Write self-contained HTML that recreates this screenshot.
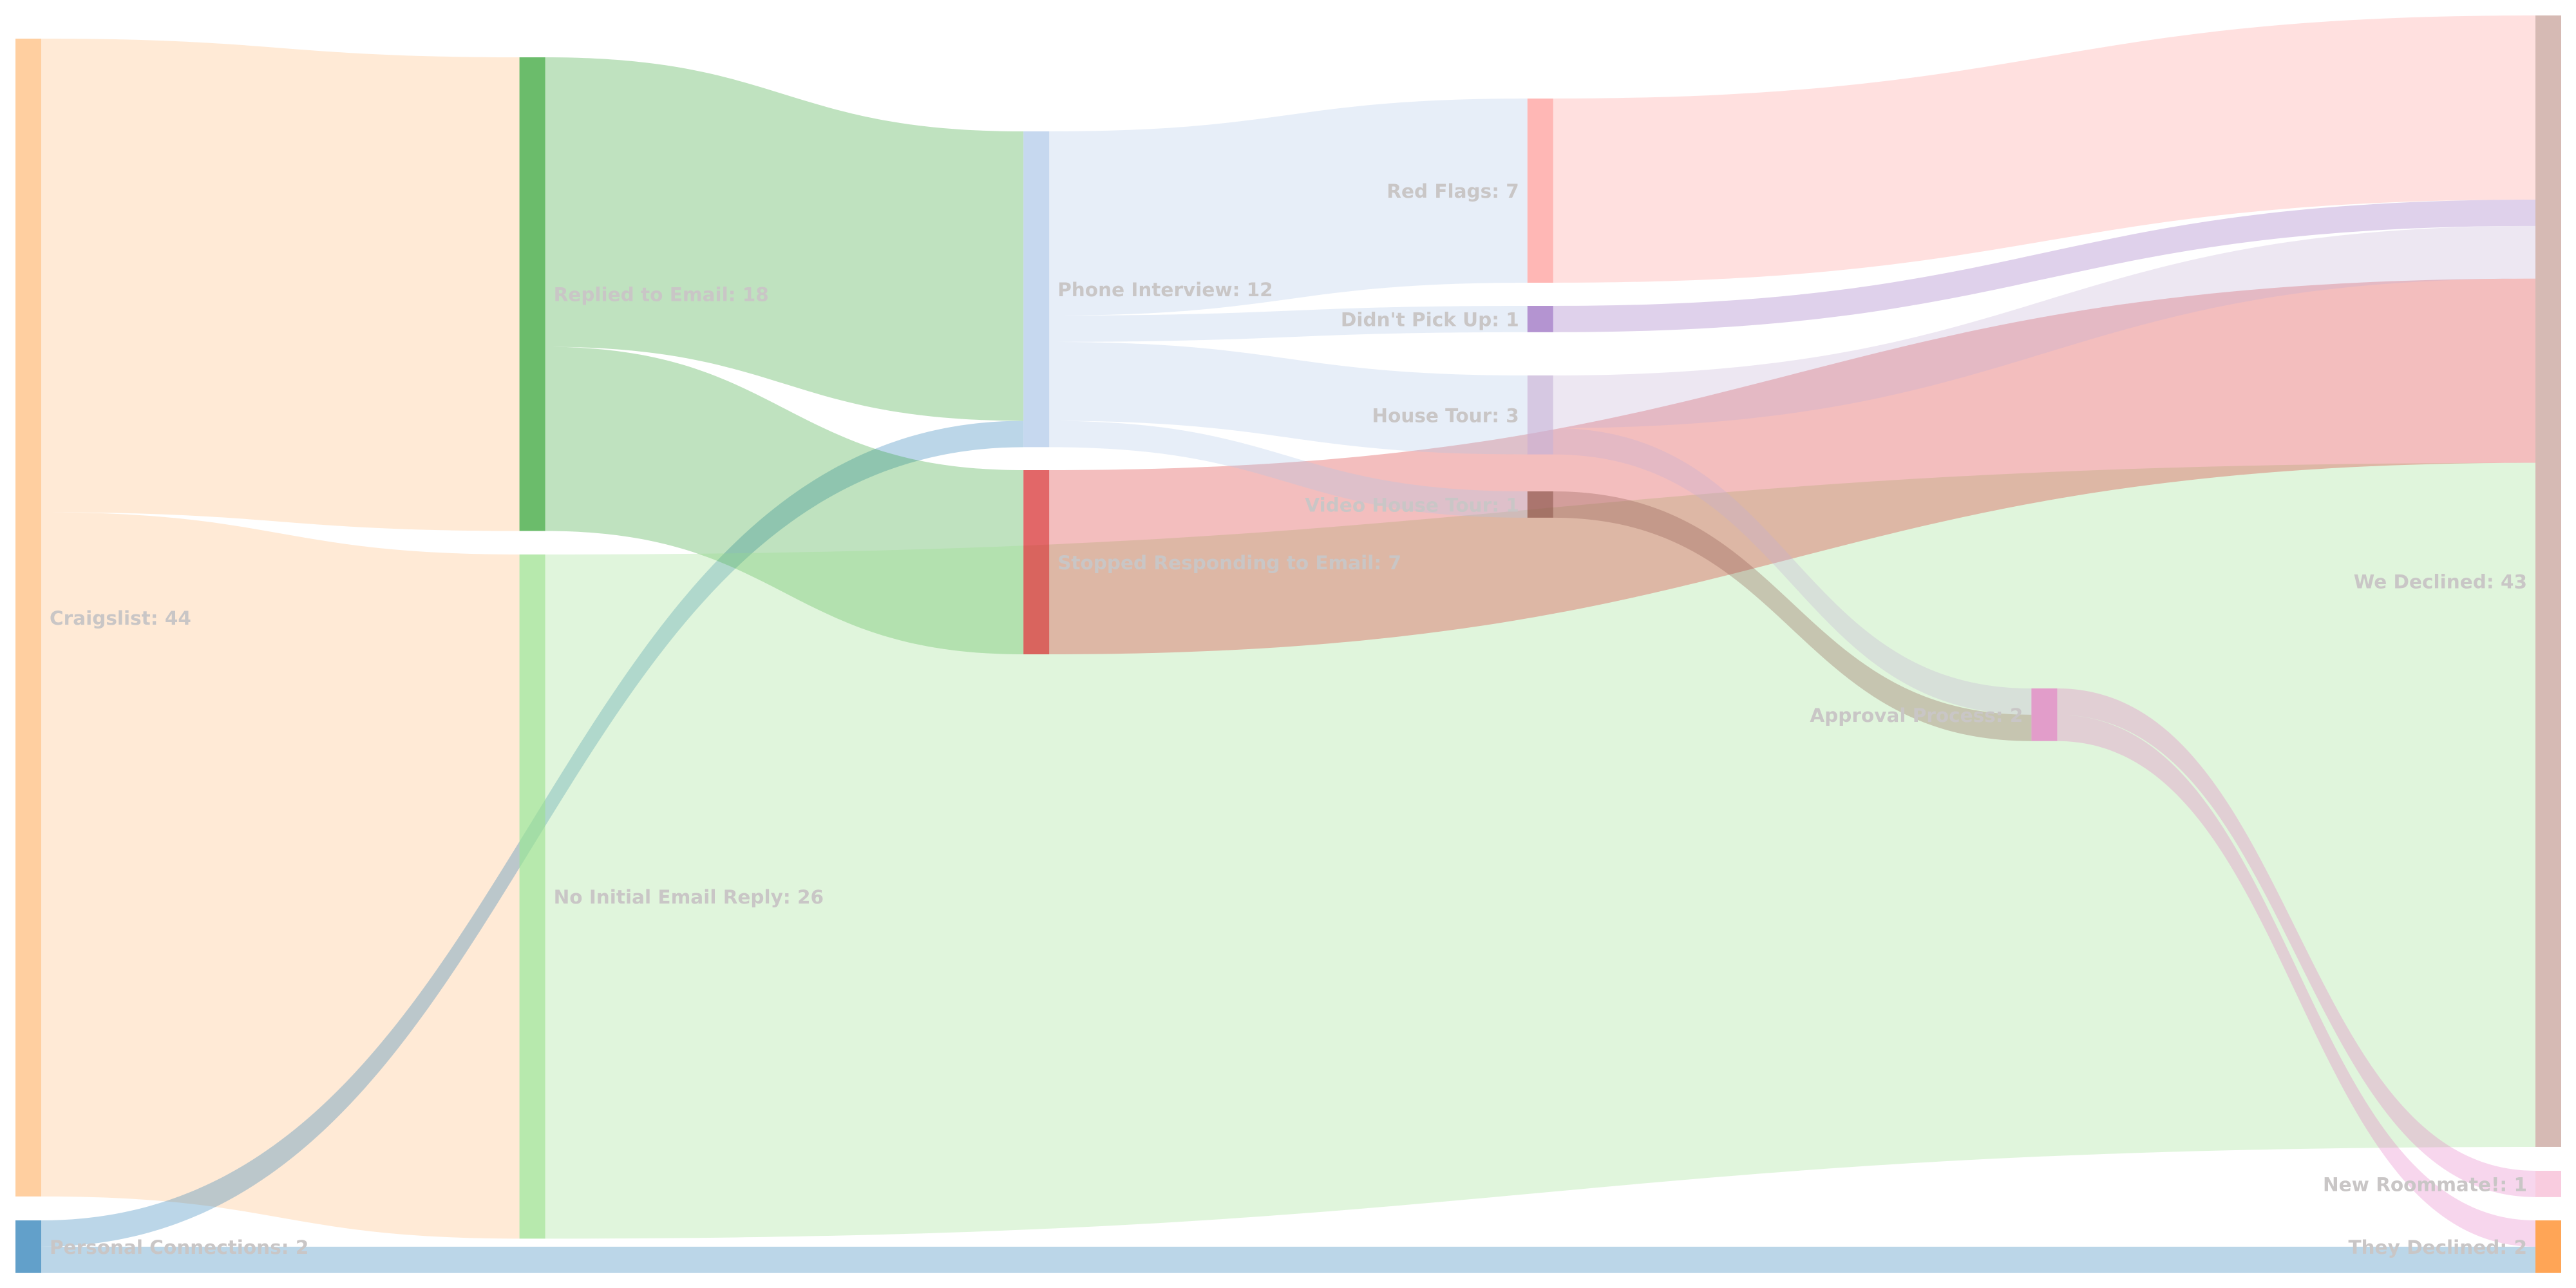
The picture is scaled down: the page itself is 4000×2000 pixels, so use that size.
<!DOCTYPE html>
<html><head><meta charset="utf-8"><style>
html,body{margin:0;padding:0;background:#fff;}
svg{display:block;}
text{font-family:"DejaVu Sans","Liberation Sans",sans-serif;font-weight:bold;font-size:29.5px;fill:#c9c6c6;}
</style></head><body>
<svg id="chart" width="4000" height="2000" viewBox="0 0 4000 2000" xmlns="http://www.w3.org/2000/svg">
<g id="links"></g>
<g id="nodes"></g>
<g id="labels"></g>
</svg>
<script>
// ---- data ----
const nodeLabels = ["Craigslist","Personal Connections","Replied to Email","No Initial Email Reply","Phone Interview","Stopped Responding to Email","Red Flags","Didn't Pick Up","House Tour","Video House Tour","Approval Process","We Declined","New Roommate!","They Declined"];
const nodeColumns = [0,0,1,1,2,2,3,3,3,3,4,5,5,5];
const linkSources = [0,0,1,1,2,2,3,5,4,4,4,4,6,7,8,8,9,10,10];
const linkTargets = [2,3,4,13,4,5,11,11,6,7,8,9,11,11,11,10,10,12,13];
const linkValues  = [18,26,1,1,11,7,26,7,7,1,3,1,7,1,2,1,1,1,1];
// ---- layout (styles/positions) ----
const nodeColors = ["#ffbb78","#1f77b4","#2ca02c","#98df8a","#aec7e8","#d62728","#ff9896","#9467bd","#c5b0d5","#8c564b","#e377c2","#c49c94","#f7b6d2","#ff7f0e"];
const nodeTops = [60,1895,89,861,204,730,153,475,583,763,1069,24,1818,1895];
const K = 40.86, X0 = 24, COLW = 782.6, NW = 40;
const NS = "http://www.w3.org/2000/svg";
function xCol(c){ return X0 + c*COLW; }
function hVal(v){ return v*K; }
const N = nodeLabels.length;
const nodeVal = new Array(N).fill(0), inV = new Array(N).fill(0), outV = new Array(N).fill(0);
linkValues.forEach((v,i)=>{ outV[linkSources[i]]+=v; inV[linkTargets[i]]+=v; });
for(let i=0;i<N;i++) nodeVal[i]=Math.max(inV[i],outV[i]);
const idx = linkValues.map((_,i)=>i);
const srcOff = {}, tgtOff = {};
for(let n=0;n<N;n++){
  let acc=0;
  idx.filter(i=>linkSources[i]===n).sort((a,b)=>nodeTops[linkTargets[a]]-nodeTops[linkTargets[b]]).forEach(i=>{srcOff[i]=acc;acc+=hVal(linkValues[i]);});
  acc=0;
  idx.filter(i=>linkTargets[i]===n).sort((a,b)=>nodeTops[linkSources[a]]-nodeTops[linkSources[b]]).forEach(i=>{tgtOff[i]=acc;acc+=hVal(linkValues[i]);});
}
const gL = document.getElementById('links');
idx.forEach(i=>{
  const s=linkSources[i], t=linkTargets[i], w=hVal(linkValues[i]);
  const x0=xCol(nodeColumns[s])+NW, x1=xCol(nodeColumns[t]);
  const y0=nodeTops[s]+srcOff[i], y1=nodeTops[t]+tgtOff[i];
  const xm=(x0+x1)/2;
  const d=`M${x0},${y0} C${xm},${y0} ${xm},${y1} ${x1},${y1} L${x1},${y1+w} C${xm},${y1+w} ${xm},${y0+w} ${x0},${y0+w} Z`;
  const p=document.createElementNS(NS,'path');
  p.setAttribute('d',d);
  p.setAttribute('fill',nodeColors[s]);
  p.setAttribute('fill-opacity','0.3');
  
  
  gL.appendChild(p);
});
const gN = document.getElementById('nodes'), gT = document.getElementById('labels');
for(let n=0;n<N;n++){
  const x=xCol(nodeColumns[n]), y=nodeTops[n], h=hVal(nodeVal[n]);
  const r=document.createElementNS(NS,'rect');
  r.setAttribute('x',x); r.setAttribute('y',y); r.setAttribute('width',NW); r.setAttribute('height',h);
  r.setAttribute('fill',nodeColors[n]); r.setAttribute('fill-opacity','0.7');
  
  
  gN.appendChild(r);
  const tx=document.createElementNS(NS,'text');
  const right = nodeColumns[n]<=2;
  tx.setAttribute('x', right ? x+NW+13 : x-13);
  tx.setAttribute('y', y+h/2+11);
  tx.setAttribute('text-anchor', right ? 'start':'end');
  tx.textContent = nodeLabels[n]+': '+nodeVal[n];
  
  
  gT.appendChild(tx);
}
</script>
</body></html>
